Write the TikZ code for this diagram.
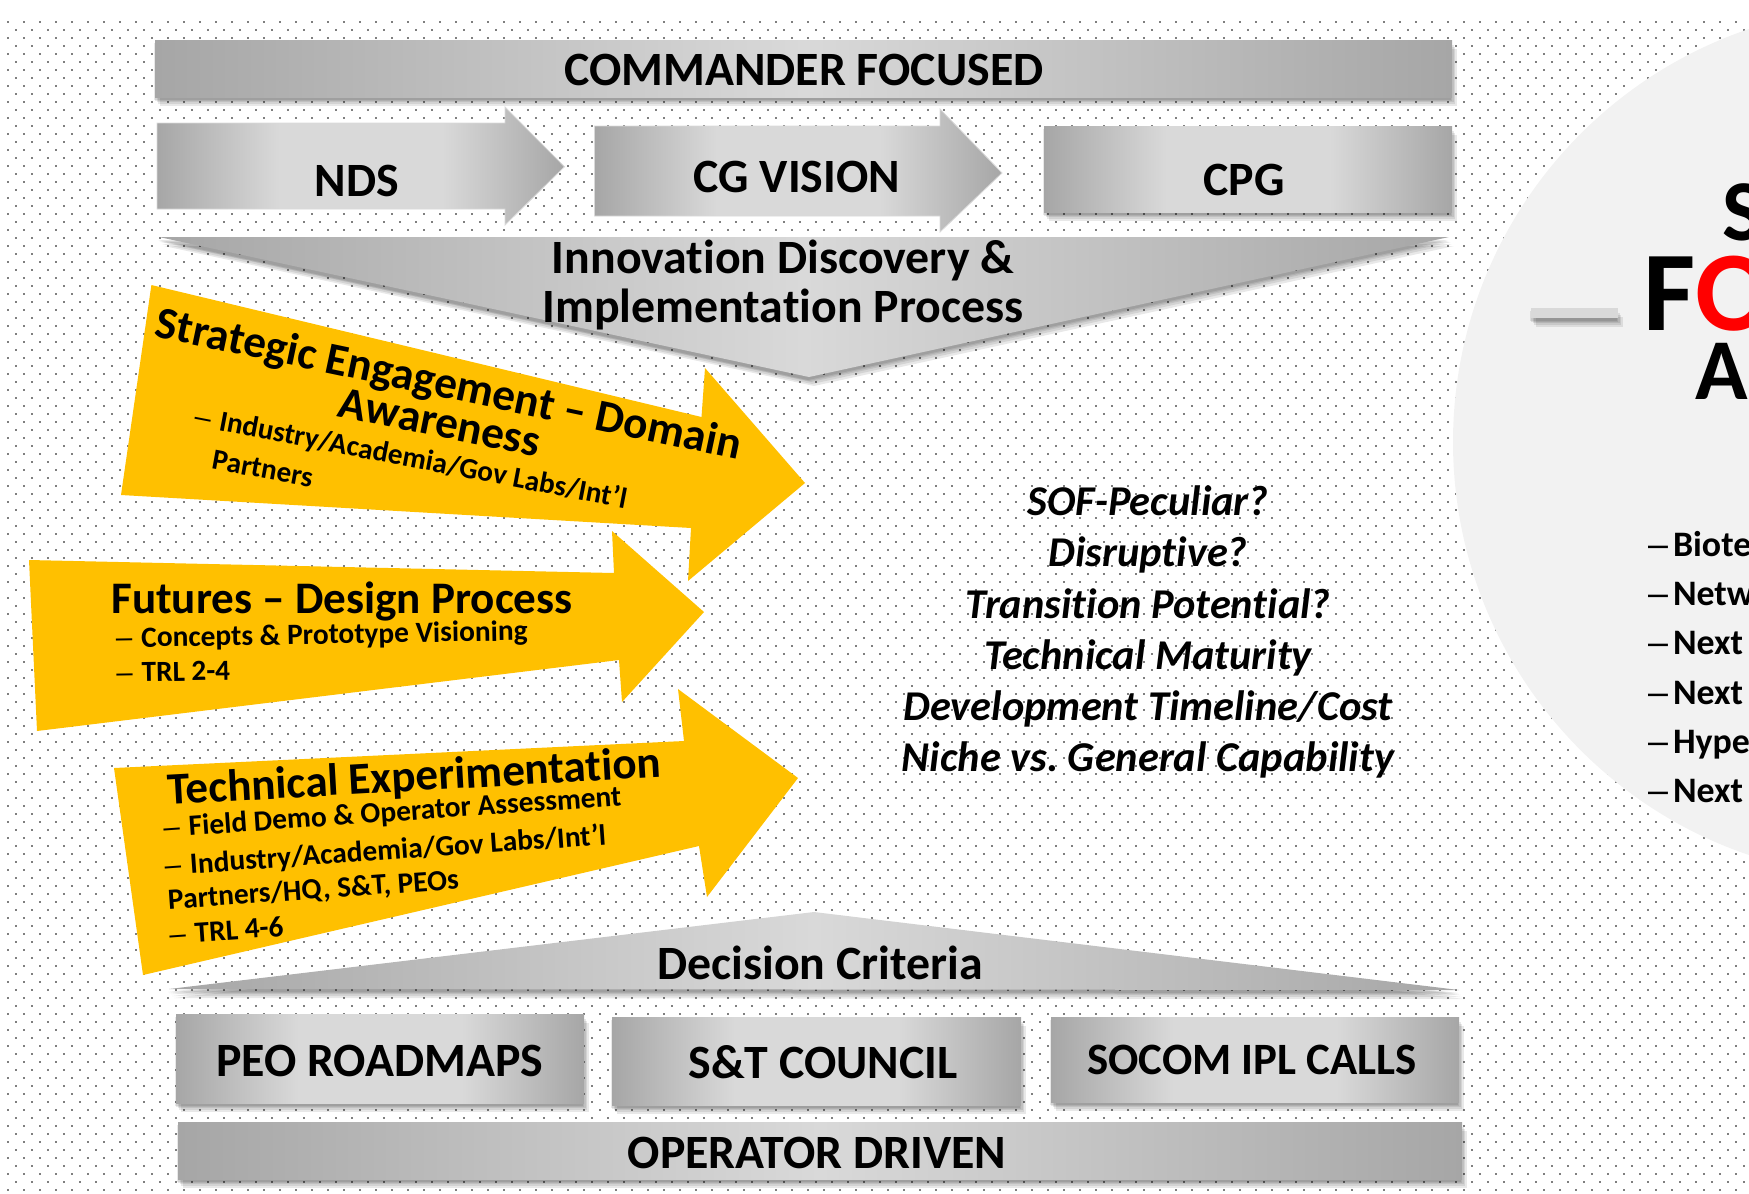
\documentclass[tikz,border=0pt]{standalone}
\usepackage{fontspec}
\setmainfont{Carlito}[Ligatures=NoCommon]
\newfontfamily\ar{Liberation Sans}
\usetikzlibrary{shadings}
\definecolor{sil}{HTML}{A6A6A6}
\definecolor{lite}{HTML}{D9D9D9}
\definecolor{gold}{HTML}{FFC000}
\definecolor{pale}{HTML}{F2F2F2}
\definecolor{dotc}{HTML}{7F7F7F}
\pgfdeclarehorizontalshading{barshade}{100bp}{color(0bp)=(sil);color(25bp)=(sil);color(50bp)=(lite);color(75bp)=(sil);color(100bp)=(sil)}
\pgfdeclarehorizontalshading{boxshade}{100bp}{color(0bp)=(sil);color(25bp)=(sil);color(40bp)=(lite);color(60bp)=(lite);color(75bp)=(sil);color(100bp)=(sil)}
\newcommand{\fs}[1]{\fontsize{#1}{#1}\selectfont\bfseries\frenchspacing}
\newcommand{\bul}{{\ar\mdseries –}\hspace{9pt}}
\tikzset{
  softshadow/.style={
    preaction={fill=black,opacity=.09,transform canvas={shift={(-1bp,-3bp)}}},
    preaction={fill=black,opacity=.09,transform canvas={shift={(0bp,-4bp)}}},
    preaction={fill=black,opacity=.09,transform canvas={shift={(2bp,-5bp)}}},
    preaction={fill=black,opacity=.09,transform canvas={shift={(3bp,-7bp)}}},
    preaction={fill=black,opacity=.09,transform canvas={shift={(5bp,-9bp)}}}},
  barfill/.style={softshadow,shading=barshade},
  boxfill/.style={softshadow,shading=boxshade},
  plainarrow/.style={shading=boxshade,draw=lite,line width=.8bp},
  goldarrow/.style={fill=gold},
  txt/.style={inner sep=0pt,outer sep=0pt,align=center},
  btxt/.style={txt,anchor=base},
  dotrow/.style={line width=2bp,dotc,dash pattern=on 2bp off 14bp},
}
\begin{document}
\begin{tikzpicture}[x=1bp,y=-1bp]
\useasboundingbox (0,0) rectangle (1749,1193);
\clip (0,0) rectangle (1749,1193);
% dotted ground
\foreach \r in {0,...,73}{
  \draw[dotrow] (7,{22+16*\r}) -- (1749,{22+16*\r});
  \draw[dotrow] (15,{30+16*\r}) -- (1749,{30+16*\r});
}
% disc on the right
\fill[pale] (1889,442) circle[radius=436];
% grey bands and boxes
\path[barfill] (155,40) rectangle (1452,97);
\path[plainarrow] (157,123) -- (505,123) -- (505,107) -- (564.5,166.7) -- (505,225) -- (505,209) -- (157,209) -- cycle;
\path[plainarrow] (594.5,126) -- (940,126) -- (940,109) -- (1002,173) -- (940,232) -- (940,216) -- (594.5,216) -- cycle;
\path[boxfill] (1044,126) rectangle (1452,212);
\path[barfill] (159,237) -- (1449,237) -- (809,377) -- cycle;
\path[barfill] (169,989) -- (814,912) -- (1459,990) -- cycle;
\path[boxfill] (176,1014) rectangle (584,1103);
\path[boxfill] (612,1017) rectangle (1021,1105);
\path[boxfill] (1051,1017) rectangle (1459,1102);
\path[barfill] (178,1122) rectangle (1462,1179);
% dash
\path[softshadow,fill=lite] (1531,308) rectangle (1618,318);
% gold arrows
\fill[goldarrow] (151.4,285) -- (701.5,417) -- (705,368) -- (805,483) -- (688,581) -- (691,528) -- (121,495) -- cycle;
\fill[goldarrow] (29,560) -- (614,573) -- (612,531) -- (704,612) -- (622,702) -- (619,660) -- (37,731) -- cycle;
\fill[goldarrow] (114,768) -- (684,741) -- (678,689) -- (798,778) -- (707,897) -- (699,846) -- (143,975) -- cycle;
% labels
\node[txt] (cmd) at (804,70) {\fs{48}COMMANDER FOCUSED};
\node[txt] (nds) at (357,181) {\fs{48}NDS};
\node[txt] (cgv) at (797,177) {\fs{48}CG VISION};
\node[txt] (cpg) at (1244,180) {\fs{48}CPG};
\node[txt] (inn1) at (783,260) {\fs{48}Innovation Discovery \&};
\node[txt] (inn2) at (783,309) {\fs{48}Implementation Process};
\node[btxt,rotate=-11.9] (se1) at (446,398) {\fs{45.5}Strategic Engagement – Domain};
\node[btxt,rotate=-11.4] (se2) at (437,436.7) {\fs{45.5}Awareness};
\node[btxt,rotate=-10.9] (se3) at (409,467) {\fs{29.3}\bul Industry/Academia/Gov Labs/Int’l};
\node[btxt,rotate=-10.4] (se4) at (261,478) {\fs{29.3}Partners};
\node[btxt] (fu1) at (342,613) {\fs{45.3}Futures – Design Process};
\node[btxt,rotate=1] (fu2) at (322,644) {\fs{29.5}\bul Concepts \& Prototype Visioning};
\node[btxt,rotate=1] (fu3) at (173.5,681) {\fs{29.3}\bul TRL 2-4};
\node[btxt,rotate=3.2] (te1) at (415,791) {\fs{45.3}Technical Experimentation};
\node[btxt,rotate=4] (te2) at (393,821.5) {\fs{29.5}\bul Field Demo \& Operator Assessment};
\node[btxt,rotate=4] (te3) at (386,860) {\fs{29.5}\bul Industry/Academia/Gov Labs/Int’l};
\node[btxt,rotate=4] (te4) at (314,899) {\fs{29.5}Partners/HQ, S\&T, PEOs};
\node[btxt,rotate=4] (te5) at (227,940) {\fs{29.5}\bul TRL 4-6};
\foreach \n/\y/\t in {q1/515/SOF-Peculiar?,q2/566.5/Disruptive?,q3/618/Transition Potential?,q4/669/Technical Maturity,q5/720/Development Timeline\slash Cost,q6/771/Niche vs. General Capability}
  \node[btxt] (\n) at (1148,\y) {\fs{42.6}\itshape\t};
\node[txt] (dc) at (820,963) {\fs{48}Decision Criteria};
\node[txt] (peo) at (380,1061) {\fs{48}PEO ROADMAPS};
\node[txt] (stc) at (823,1062) {\fs{48}S\&T COUNCIL};
\node[txt] (ipl) at (1252,1060) {\fs{45}SOCOM IPL CALLS};
\node[txt] (opd) at (817,1153) {\fs{48}OPERATOR DRIVEN};
% disc text
\node[txt,anchor=base west] (d1) at (1722,240) {\fs{87}S};
\node[txt,anchor=base west] (d2) at (1643,330) {\fs{114}F\textcolor{red}{O}};
\node[txt,anchor=base west] (d3) at (1695,399) {\fs{87}A};
\foreach \n/\y/\t in {b1/556,b2/605,b3/654,b4/704,b5/753,b6/802}{}
\foreach \n/\y/\t in {b1/556/Biote,b2/605/Netw,b3/654/Next,b4/704/Next,b5/753/Hype,b6/802/Next}{
  \node[txt,anchor=base west] (\n) at (1673,\y) {\fs{36}\t};
  \node[txt,anchor=base west] (\n d) at (1648,\y) {\fontsize{36}{36}\selectfont\ar –};
}
\end{tikzpicture}
\end{document}
